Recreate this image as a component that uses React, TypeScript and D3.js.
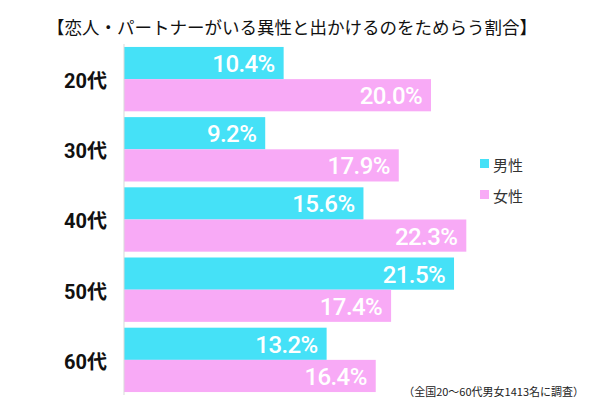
import React, { useRef, useEffect } from "react";
import * as d3 from "d3";

const title = "【恋人・パートナーがいる異性と出かけるのをためらう割合】";
const ageGroups = ["20代", "30代", "40代", "50代", "60代"];
const seriesNames = ["男性", "女性"];
const maleValues = [10.4, 9.2, 15.6, 21.5, 13.2];
const femaleValues = [20.0, 17.9, 22.3, 17.4, 16.4];
const seriesColors = ["#45e1f7", "#f8aaf6"];
const footnote = "（全国20～60代男女1413名に調査）";

const W = 600;
const H = 400;

const App = () => {
  const svgRef = useRef<SVGSVGElement>(null);

  useEffect(() => {
    const svg = d3.select(svgRef.current);
    svg.selectAll("*").remove();

    const jp = "'Noto Sans CJK JP', sans-serif";
    const num = "Roboto, 'Noto Sans CJK JP', sans-serif";

    svg
      .append("text")
      .attr("x", 292)
      .attr("y", 26)
      .attr("text-anchor", "middle")
      .attr("dominant-baseline", "central")
      .style("font-family", jp)
      .style("font-size", "17.5px")
      .style("font-weight", 400)
      .style("fill", "#111")
      .text(title);

    const y = d3
      .scaleBand()
      .domain(ageGroups)
      .range([44, 395])
      .paddingInner(0.083)
      .paddingOuter(0.042);

    const sub = d3
      .scaleBand()
      .domain(seriesNames)
      .range([0, y.bandwidth()]);

    const x = d3.scaleLinear().domain([0, 20]).range([124, 431]);

    const rows = ageGroups.map((g, i) => ({
      group: g,
      values: [maleValues[i], femaleValues[i]],
    }));

    const groups = svg
      .append("g")
      .selectAll("g")
      .data(rows)
      .enter()
      .append("g")
      .attr("transform", (d) => `translate(0,${y(d.group)})`);

    groups
      .selectAll("rect")
      .data((d) => d.values.map((v, j) => ({ v, s: seriesNames[j], j })))
      .enter()
      .append("rect")
      .attr("x", x(0))
      .attr("y", (d) => sub(d.s)!)
      .attr("width", (d) => x(d.v) - x(0))
      .attr("height", sub.bandwidth())
      .attr("fill", (d) => seriesColors[d.j]);

    groups
      .selectAll("text.val")
      .data((d) => d.values.map((v, j) => ({ v, s: seriesNames[j] })))
      .enter()
      .append("text")
      .attr("class", "val")
      .attr("x", (d) => x(d.v) - 9)
      .attr("y", (d) => sub(d.s)! + sub.bandwidth() / 2 + 1)
      .attr("text-anchor", "end")
      .attr("dominant-baseline", "central")
      .style("font-family", num)
      .style("font-size", "24px")
      .style("font-weight", 500)
      .style("letter-spacing", "-0.6px")
      .style("fill", "#fff")
      .text((d) => d.v.toFixed(1) + "%");

    groups
      .append("text")
      .attr("x", 107)
      .attr("y", y.bandwidth() / 2 + 2)
      .attr("text-anchor", "end")
      .attr("dominant-baseline", "central")
      .style("font-family", num)
      .style("font-size", "20px")
      .style("font-weight", "bold")
      .style("fill", "#111")
      .text((d) => d.group);

    // axis line
    svg
      .append("line")
      .attr("x1", x(0))
      .attr("x2", x(0))
      .attr("y1", 44)
      .attr("y2", 395)
      .attr("stroke", "#d9d9d9")
      .attr("stroke-width", 1);

    // legend
    const legend = svg
      .append("g")
      .selectAll("g")
      .data(seriesNames)
      .enter()
      .append("g")
      .attr("transform", (d, i) => `translate(480,${159 + i * 31})`);

    legend
      .append("rect")
      .attr("width", 9)
      .attr("height", 9)
      .attr("fill", (d, i) => seriesColors[i]);

    legend
      .append("text")
      .attr("x", 13)
      .attr("y", 5)
      .attr("dominant-baseline", "central")
      .style("font-family", jp)
      .style("font-size", "15px")
      .style("fill", "#333")
      .text((d) => d);

    svg
      .append("text")
      .attr("x", 584)
      .attr("y", 391)
      .attr("text-anchor", "end")
      .attr("dominant-baseline", "central")
      .style("font-family", jp)
      .style("font-size", "11px")
      .style("fill", "#222")
      .text(footnote);
  }, []);

  return (
    <svg
      ref={svgRef}
      width={W}
      height={H}
      style={{ position: "absolute", left: 0, top: 0, background: "#fff" }}
    />
  );
};

export default App;
